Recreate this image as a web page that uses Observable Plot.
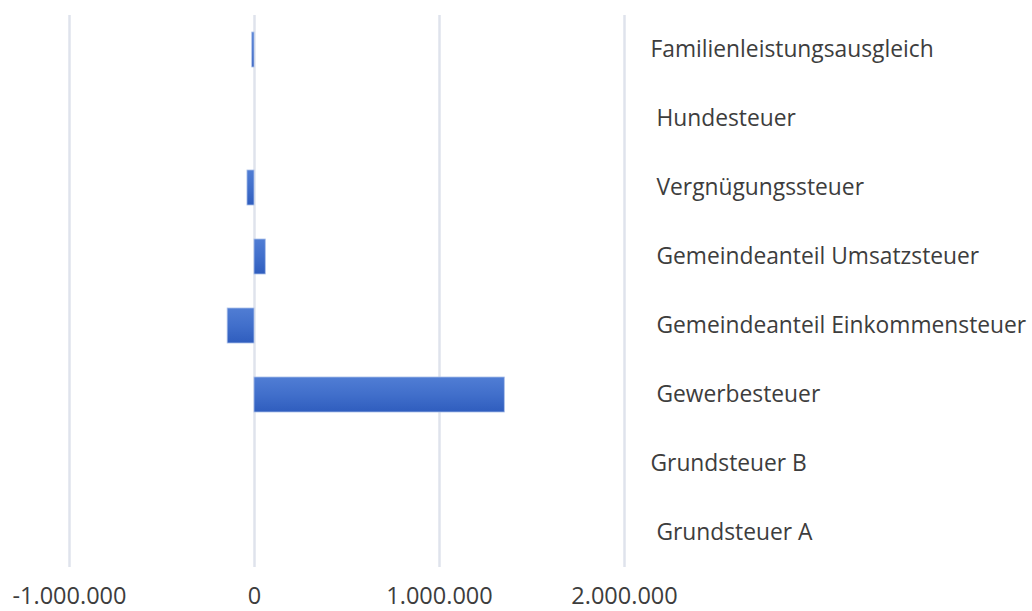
<!DOCTYPE html>
<html>
<head>
<meta charset="utf-8">
<script src="https://cdn.jsdelivr.net/npm/d3@7"></script>
<script src="https://cdn.jsdelivr.net/npm/@observablehq/plot@0.6"></script>
<style>
  html, body { margin: 0; padding: 0; background: #ffffff; }
</style>
</head>
<body>
<div id="chart"></div>
<script>
// Categories from top to bottom (leading NBSP mirrors the original's indented labels)
const categories = [
  "Familienleistungsausgleich",
  "\u00a0Hundesteuer",
  "\u00a0Vergnügungssteuer",
  "\u00a0Gemeindeanteil Umsatzsteuer",
  "\u00a0Gemeindeanteil Einkommensteuer",
  "\u00a0Gewerbesteuer",
  "Grundsteuer B",
  "\u00a0Grundsteuer A"
];
const values = [-12000, 0, -38000, 61000, -145000, 1353000, 0, 0];
const tickValues = [-1000000, 0, 1000000, 2000000];

const data = categories.map((c, i) => ({cat: c, value: values[i]}));

const locale = d3.formatLocale({decimal: ",", thousands: ".", grouping: [3], currency: ["", " €"], minus: "-"});
const fmt = locale.format(",d");

const svg = Plot.plot({
  width: 1032,
  height: 611,
  marginLeft: 69,
  marginRight: 408,
  marginTop: 15,
  marginBottom: 44,
  style: {fontFamily: "'Open Sans', sans-serif", fontSize: "23px", color: "#3d3d3d", background: "#ffffff"},
  x: {domain: [-1000000, 2000000], label: null},
  y: {domain: categories, paddingInner: 0.5, paddingOuter: 0.25, label: null},
  marks: [
    Plot.ruleX(tickValues, {stroke: "#dfe3ec", strokeWidth: 2.5}),
    Plot.barX(data, {x: "value", y: "cat", fill: "url(#barGrad)", stroke: "#a9bee8", strokeWidth: 0.8}),
    Plot.axisX({ticks: tickValues, tickSize: 0, tickPadding: 20, tickFormat: fmt, fontSize: 23.5, label: null}),
    Plot.axisY({anchor: "right", tickSize: 0, tickPadding: 26, textAnchor: "start", fontSize: 22.8, label: null})
  ]
});

const ns = "http://www.w3.org/2000/svg";
const defs = document.createElementNS(ns, "defs");
const grad = document.createElementNS(ns, "linearGradient");
grad.setAttribute("id", "barGrad");
grad.setAttribute("x1", "0"); grad.setAttribute("y1", "0");
grad.setAttribute("x2", "0"); grad.setAttribute("y2", "1");
[["0", "#507dd4"], ["0.5", "#416fcb"], ["1", "#2f5dbe"]].forEach(([o, c]) => {
  const s = document.createElementNS(ns, "stop");
  s.setAttribute("offset", o);
  s.setAttribute("stop-color", c);
  grad.appendChild(s);
});
defs.appendChild(grad);
svg.insertBefore(defs, svg.firstChild);

document.getElementById("chart").appendChild(svg);
</script>
</body>
</html>
